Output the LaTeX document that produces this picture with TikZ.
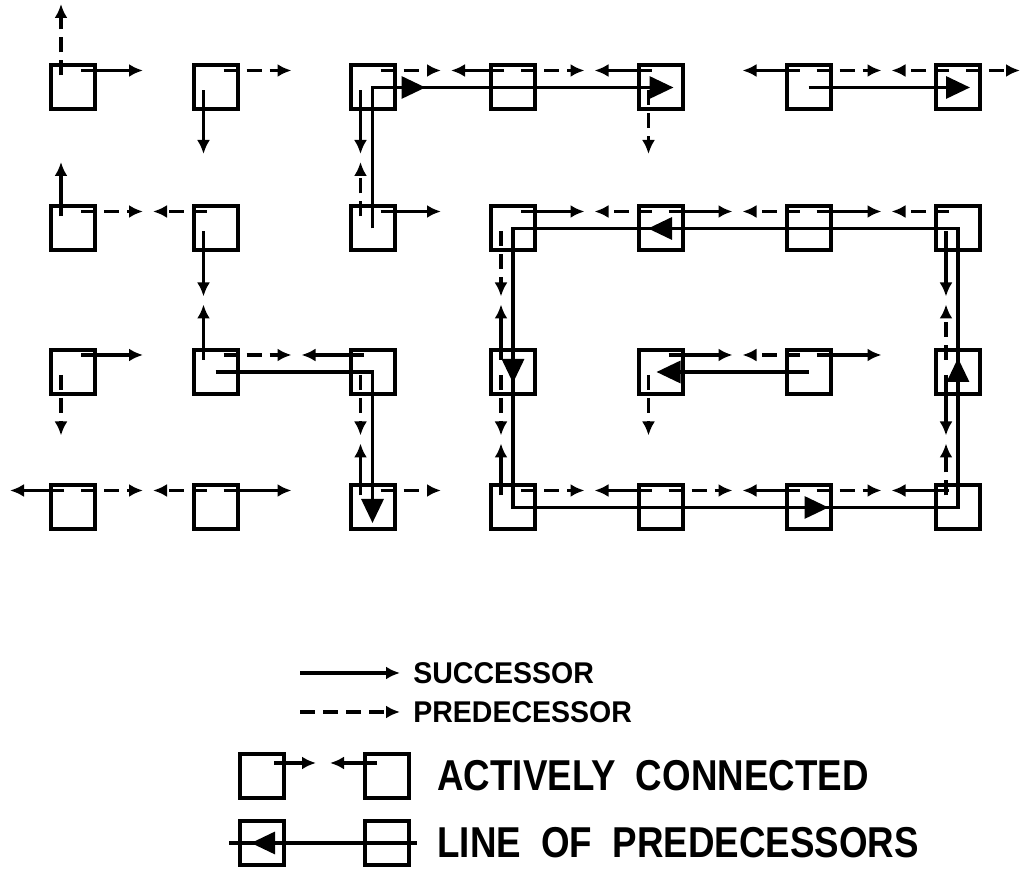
\documentclass[tikz,border=0pt]{standalone}
\usepackage{fontspec}
\usetikzlibrary{arrows.meta}
\newfontfamily\legfont[FakeStretch=0.85]{Liberation Sans}
\newfontfamily\keyfont[FakeStretch=0.95]{Liberation Sans}

% column / row centres and the middle of the gaps between them (image pixels)
\def\colx{{73,215.5,372.5,513,660.5,808.5,958}}
\def\rowy{{87.5,228.5,372,507.5}}
\def\gapx{{2,145,293.5,443,586.5,734.5,883.5,1022}}
\def\gapy{{0,158,300.5,439.5,560}}

\tikzset{
  cell/.style={draw, line width=2pt, minimum size=22pt, inner sep=0pt},
  succ/.style={line width=1.6pt, -{Latex[length=7pt,width=6.5pt]}},
  pred/.style={succ, dash pattern=on 7.5pt off 4pt},
  predline/.style={line width=1.6pt},
  bighead/.style={-{Triangle[length=12pt,width=11pt]}},
  smalltext/.style={anchor=west, inner sep=0pt, font={\keyfont\bfseries\fontsize{15pt}{18pt}\selectfont}},
  bigtext/.style={anchor=west, inner sep=0pt, font={\legfont\bfseries\fontsize{21.6pt}{24pt}\selectfont}},
}

\begin{document}
\begin{tikzpicture}[x=0.5pt, y=-0.5pt]
\useasboundingbox (0,0) rectangle (1025,870);

% ===== grid of cells =====
\foreach \r in {0,...,3}
  \foreach \c in {0,...,6}{
    \pgfmathsetmacro\bx{\colx[\c]}
    \pgfmathsetmacro\by{\rowy[\r]}
    \node[cell] (b\r\c) at (\bx,\by) {};
  }

% ===== links leaving each cell =====
% to the east
\foreach \r/\c/\t in {0/0/succ, 0/1/pred, 0/2/pred, 0/3/pred, 0/5/pred, 0/6/pred,
    1/0/pred, 1/2/succ, 1/3/succ, 1/4/succ, 1/5/succ,
    2/0/succ, 2/1/pred, 2/4/succ, 2/5/succ,
    3/0/pred, 3/1/succ, 3/2/pred, 3/3/pred, 3/4/pred, 3/5/pred}{
  \pgfmathsetmacro\len{\gapx[\c+1]-\colx[\c]-2}
  \draw[\t] ([shift={(8,-17)}]b\r\c.center) -- ([shift={(\len,-17)}]b\r\c.center);
}
% to the west
\foreach \r/\c/\t in {0/3/succ, 0/4/succ, 0/5/succ, 0/6/pred,
    1/1/pred, 1/4/pred, 1/5/pred, 1/6/pred,
    2/2/succ, 2/5/pred,
    3/0/succ, 3/1/pred, 3/4/succ, 3/5/succ, 3/6/succ}{
  \pgfmathsetmacro\len{\gapx[\c]-\colx[\c]+8}
  \draw[\t] ([shift={(-9,-17)}]b\r\c.center) -- ([shift={(\len,-17)}]b\r\c.center);
}
% to the north
\foreach \r/\c/\t in {0/0/pred, 1/0/succ, 1/2/pred, 2/1/succ, 2/3/succ,
    2/6/pred, 3/2/succ, 3/3/succ, 3/6/pred}{
  \pgfmathsetmacro\len{\gapy[\r]-\rowy[\r]+4}
  \draw[\t] ([shift={(-12,-12)}]b\r\c.center) -- ([shift={(-12,\len)}]b\r\c.center);
}
% to the south
\foreach \r/\c/\t in {0/1/succ, 0/2/succ, 0/4/pred, 1/1/succ, 1/3/pred, 1/6/succ,
    2/0/pred, 2/2/pred, 2/3/pred, 2/4/pred, 2/6/succ}{
  \pgfmathsetmacro\len{\gapy[\r+1]-\rowy[\r]-4}
  \draw[\t] ([shift={(-12,3)}]b\r\c.center) -- ([shift={(-12,\len)}]b\r\c.center);
}

% ===== lines of predecessors =====
\draw[predline, bighead] (b12.center) -- (b02.center) -- ([shift={(13,0)}]b04.center);
\draw[predline, bighead] (b02.center) -- ([shift={(53,0)}]b02.center);
\draw[predline, bighead] (b05.center) -- ([shift={(12,0)}]b06.center);
\draw[predline, bighead] (b21.center) -- (b22.center) -- ([shift={(0,15.5)}]b32.center);
\draw[predline, bighead] (b25.center) -- ([shift={(-4,0)}]b24.center);
% the closed loop
\draw[predline] (b13.center) rectangle (b36.center);
\draw[predline, bighead] (b15.center) -- ([shift={(-12.5,0)}]b14.center);
\draw[predline, bighead] (b13.center) -- ([shift={(0,11)}]b23.center);
\draw[predline, bighead] (b33.center) -- ([shift={(20,0)}]b35.center);
\draw[predline, bighead] (b36.center) -- ([shift={(0,-14)}]b26.center);

% ===== legend =====
\node[smalltext] (tsucc) at (413,673) {SUCCESSOR};
\node[smalltext] (tpred) at (413,712) {PREDECESSOR};
\draw[succ] ([xshift=-56.5pt]tsucc.west) -- ([xshift=-6.5pt]tsucc.west);
\draw[pred] ([xshift=-56.5pt]tpred.west) -- ([xshift=-6.5pt]tpred.west);

\node[cell] (la) at (262,776) {};
\node[cell] (lb) at (387,776) {};
\draw[succ] ([shift={(12,-13)}]la.center) -- ([shift={(54,-13)}]la.center);
\draw[succ] ([shift={(-10,-13)}]lb.center) -- ([shift={(-57,-13)}]lb.center);
\node[bigtext] (tact) at (437,776) {ACTIVELY\ \ CONNECTED};

\node[cell] (lc) at (262,843) {};
\node[cell] (ld) at (387,843) {};
\draw[predline] ([shift={(-33,0)}]lc.center) -- ([shift={(30,0)}]ld.center);
\draw[predline, bighead] (ld.center) -- ([shift={(-11,0)}]lc.center);
\node[bigtext] (tline) at (437,843) {LINE\ \ OF\ \ PREDECESSORS};
\end{tikzpicture}
\end{document}
